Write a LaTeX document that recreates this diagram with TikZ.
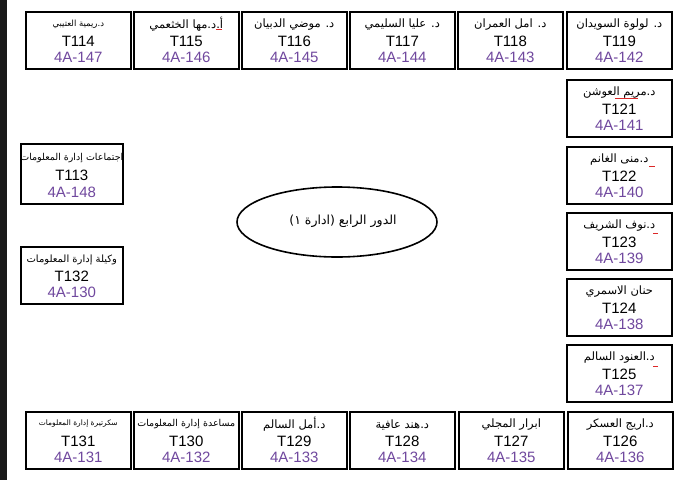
\documentclass[tikz,border=0pt]{standalone}
\usepackage{fontspec}
\setmainfont{Liberation Sans}
\newfontfamily\ar[Script=Arabic]{DejaVu Sans}
\TeXXeTstate=1
\definecolor{codepurple}{RGB}{112,72,158}
\definecolor{spellred}{RGB}{220,40,40}
\tikzset{
  roombox/.style={draw=black, line width=1.6pt, fill=white, rectangle, minimum width=105pt, minimum height=57pt, inner sep=0pt},
  namet/.style={inner sep=0pt, font=\ar\fontsize{11.5}{13}\selectfont},
  tnum/.style={inner sep=0pt, font=\fontsize{15}{17}\selectfont, text=black},
  codet/.style={inner sep=0pt, font=\fontsize{15}{17}\selectfont, text=codepurple},
  spell/.style={draw=spellred, line width=1pt}
}
\newcommand\room[7][]{%
  \node[roombox, anchor=north west, #1] (#2) at (#3,#4) {};
  \node[namet] (#2-n) at ([yshift=-13.5pt]#2.north) {#5};
  \node[tnum] (#2-t) at ([yshift=-30pt]#2.north) {#6};
  \node[codet] (#2-c) at ([yshift=-46.5pt]#2.north) {#7};
}
\begin{document}
\begin{tikzpicture}[x=1pt,y=-1pt]
\useasboundingbox (0,0) rectangle (693,480);
\fill[white] (0,0) rectangle (693,480);
\fill[black!90] (0,0) rectangle (7,480);
% top row
\node[roombox, anchor=north west] (T114) at (25,11) {};
\node[inner sep=0pt, font=\ar\fontsize{8.5}{10}\selectfont] (T114-n) at ([yshift=-13pt]T114.north) {\beginR د.ريمية العتيبي\endR};
\node[tnum] (T114-t) at ([yshift=-30pt]T114.north) {T114};
\node[codet] (T114-c) at ([yshift=-46.5pt]T114.north) {4A-147};
\room{T115}{133}{11}{\beginR أ.د.مها الخثعمي\endR}{T115}{4A-146}
\room{T116}{241}{11}{\beginR د. موضي الدبيان\endR}{T116}{4A-145}
\room{T117}{349}{11}{\beginR د. عليا السليمي\endR}{T117}{4A-144}
\room{T118}{457}{11}{\beginR د. امل العمران\endR}{T118}{4A-143}
\room{T119}{566}{11}{\beginR د. لولوة السويدان\endR}{T119}{4A-142}
% right column
\room{T121}{566}{79}{\beginR د.مريم العوشن\endR}{T121}{4A-141}
\room{T122}{566}{146}{\beginR د.منى الغانم\endR}{T122}{4A-140}
\room{T123}{566}{212}{\beginR د.نوف الشريف\endR}{T123}{4A-139}
\room{T124}{566}{278}{\beginR حنان الاسمري\endR}{T124}{4A-138}
\room{T125}{566}{344}{\beginR د.العنود السالم\endR}{T125}{4A-137}
% bottom row
\node[roombox, anchor=north west] (T131) at (25,411) {};
\node[inner sep=0pt, font=\ar\fontsize{7.5}{9}\selectfont] (T131-n) at ([yshift=-13pt]T131.north) {\beginR سكرتيرة إدارة المعلومات\endR};
\node[tnum] (T131-t) at ([yshift=-30pt]T131.north) {T131};
\node[codet] (T131-c) at ([yshift=-46.5pt]T131.north) {4A-131};
\node[roombox, anchor=north west] (T130) at (133,411) {};
\node[inner sep=0pt, font=\ar\fontsize{9.5}{11}\selectfont] (T130-n) at ([yshift=-13.5pt]T130.north) {\beginR مساعدة إدارة المعلومات\endR};
\node[tnum] (T130-t) at ([yshift=-30pt]T130.north) {T130};
\node[codet] (T130-c) at ([yshift=-46.5pt]T130.north) {4A-132};
\room{T129}{241}{411}{\beginR د.أمل السالم\endR}{T129}{4A-133}
\room{T128}{349}{411}{\beginR د.هند عافية\endR}{T128}{4A-134}
\room{T127}{458}{411}{\beginR ابرار المجلي\endR}{T127}{4A-135}
\room{T126}{567}{411}{\beginR د.اريج العسكر\endR}{T126}{4A-136}
% left column
\node[roombox, anchor=north west, minimum width=102pt, minimum height=60pt] (T113) at (20,143) {};
\node[inner sep=0pt, font=\ar\fontsize{9.5}{11}\selectfont] (T113-n) at ([yshift=-15pt]T113.north) {\beginR اجتماعات إدارة المعلومات\endR};
\node[tnum] (T113-t) at ([yshift=-32pt]T113.north) {T113};
\node[codet] (T113-c) at ([yshift=-49pt]T113.north) {4A-148};
\node[roombox, anchor=north west, minimum width=102pt, minimum height=57pt] (T132) at (20,246) {};
\node[inner sep=0pt, font=\ar\fontsize{10}{12}\selectfont] (T132-n) at ([yshift=-13.5pt]T132.north) {\beginR وكيلة إدارة المعلومات\endR};
\node[tnum] (T132-t) at ([yshift=-30pt]T132.north) {T132};
\node[codet] (T132-c) at ([yshift=-46.5pt]T132.north) {4A-130};
% ellipse
\draw[line width=1.6pt] (337,222) ellipse [x radius=100, y radius=35];
\node[inner sep=0pt, font=\ar\fontsize{12.5}{14}\selectfont] (floor) at (343,221) {\beginR الدور الرابع (ادارة ١)\endR};
% spell-check marks
\draw[spell] (216,29) -- (222,29);
\draw[spell] (615,98) -- (638,98);
\draw[spell] (649,166) -- (655,166);
\draw[spell] (653,233) -- (658,233);
\draw[spell] (653,366) -- (658,366);
\end{tikzpicture}
\end{document}
